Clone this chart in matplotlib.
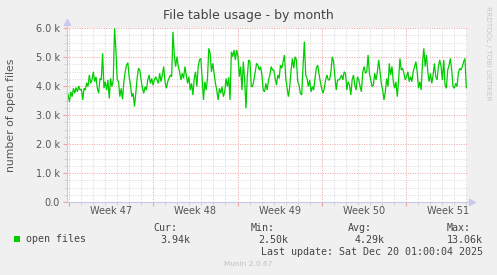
import matplotlib
matplotlib.use("Agg")
import matplotlib.pyplot as plt
import matplotlib.dates as mdates
import numpy as np
import pandas as pd
from matplotlib.patches import Rectangle
from matplotlib.ticker import MultipleLocator, FixedLocator, NullFormatter

# ---------------- data (thousands of open files) ----------------
open_files_part1 = [
    3.86, 3.69, 3.46, 3.80, 3.63, 3.92, 3.75, 3.95, 3.80, 4.00, 3.86, 3.89, 3.52, 3.92, 3.86,
    4.11, 3.98, 4.38, 4.09, 4.21, 4.49, 4.15, 4.32, 3.92, 3.75, 4.26, 4.21, 5.13, 3.92, 4.15,
    3.86, 4.21, 3.57, 4.26, 3.98, 4.21, 5.99, 5.24, 4.21, 4.15, 3.63, 3.92, 3.54, 4.15, 4.49,
    4.72, 4.80, 4.32, 4.03, 3.63, 3.75, 3.29, 3.75, 4.26, 4.61, 4.55, 4.21, 3.92, 3.75, 3.98,
    3.86, 4.21, 4.38, 4.09, 4.26, 4.03, 4.21, 4.32, 4.21, 4.09, 4.44, 4.15, 4.38, 4.67, 4.15,
    3.92, 4.15, 4.26, 4.38, 4.32, 5.87, 5.07, 4.67, 5.01, 4.67, 4.49, 4.21, 4.44, 4.26, 4.67,
    4.38, 4.09, 4.32, 3.86, 4.09, 3.69, 4.26, 4.49, 3.98, 4.67, 4.90, 4.95, 4.21, 3.52, 4.15,
    3.86, 4.26, 5.30, 5.13, 4.49, 4.78, 4.44, 4.09, 3.86, 3.52, 3.92, 3.75, 3.98, 3.63, 3.80,
    4.26, 3.98, 4.30, 3.52, 5.18, 5.01, 5.24, 4.90, 5.24, 5.01, 4.32, 4.67, 3.86, 4.84, 4.21,
    3.23, 4.32, 4.90, 4.84, 3.98,
]
open_files_part2 = [
    3.98, 4.21, 4.49, 4.78, 4.72, 4.55, 4.67, 4.38, 3.86, 3.80, 4.09, 3.86, 4.21, 4.38, 4.67,
    4.55, 4.55, 4.26, 4.03, 4.38, 4.26, 4.72, 4.61, 4.84, 5.07, 4.26, 3.92, 3.63, 3.98, 4.55,
    4.95, 4.61, 5.01, 4.90, 4.15, 4.03, 3.75, 3.69, 4.67, 5.53, 4.38, 4.26, 3.98, 4.21, 3.80,
    3.98, 3.86, 4.26, 4.61, 4.72, 4.44, 4.15, 3.92, 3.75, 3.92, 4.21, 4.38, 4.21, 4.21, 4.49,
    5.01, 4.84, 4.32, 3.86, 4.21, 4.21, 4.26, 4.38, 4.21, 4.49, 4.44, 3.86, 4.15, 4.03, 3.69,
    4.21, 4.38, 4.03, 3.86, 4.32, 4.21, 3.98, 3.80, 4.49, 4.67, 4.44, 4.49, 5.07, 4.44, 4.21,
    3.98, 4.03, 4.44, 4.21, 4.49, 4.90, 4.49, 4.09, 3.86, 3.52, 3.80, 4.26, 3.98, 4.78, 4.38,
    4.67, 4.15, 3.92, 4.15, 3.63, 4.21, 4.95, 4.55, 4.61, 4.44, 4.21, 4.32, 4.49, 4.15, 4.32,
    4.15, 4.49, 4.67, 4.84, 4.49, 3.92, 4.15, 3.86, 4.78, 5.30, 4.67, 5.07, 4.49, 4.15, 4.44,
    4.09, 4.38, 4.78, 4.32, 4.21, 4.67, 4.90, 4.67, 4.21, 4.90, 4.03, 3.92, 4.55, 4.72, 4.95,
    4.55, 3.98, 3.92, 4.09, 3.98, 4.44, 4.61, 4.55, 4.67, 4.84, 4.95, 3.94,
]
series_start = "2025-11-16 19:00"
series_end = "2025-12-20 01:00"
x_start = "2025-11-16 19:26"
x_end = "2025-12-20 02:25"
week_starts = ["2025-11-17", "2025-11-24", "2025-12-01", "2025-12-08", "2025-12-15"]
week_labels = ["Week 47", "Week 48", "Week 49", "Week 50", "Week 51"]
y_ticks = [0, 1000, 2000, 3000, 4000, 5000, 6000]
y_tick_labels = ["0.0", "1.0 k", "2.0 k", "3.0 k", "4.0 k", "5.0 k", "6.0 k"]
legend_name = "open files"
stat_names = ["Cur:", "Min:", "Avg:", "Max:"]
stat_values = ["3.94k", "2.50k", "4.29k", "13.06k"]

values = np.array(open_files_part1 + open_files_part2) * 1000.0
times = pd.date_range(series_start, series_end, periods=len(values))

# ---------------- figure ----------------
W, H = 497, 275
fig = plt.figure(figsize=(W / 100, H / 100), dpi=100, facecolor="#F0F0F0")

def fx(x):
    return x / W

def fy(y):
    return 1 - y / H

L, R, T, B = 67, 467, 28, 202
ax = fig.add_axes([fx(L), fy(B), (R - L) / W, (B - T) / H])
ax.set_facecolor("white")

x0 = mdates.date2num(pd.Timestamp(x_start))
x1 = mdates.date2num(pd.Timestamp(x_end))
ax.set_xlim(x0, x1)
ax.set_ylim(0, 6000)

# grid
ax.yaxis.set_major_locator(FixedLocator(y_ticks))
ax.yaxis.set_minor_locator(MultipleLocator(250))
week_nums = [mdates.date2num(pd.Timestamp(w)) for w in week_starts]
ax.xaxis.set_major_locator(FixedLocator(week_nums))
ax.xaxis.set_minor_locator(MultipleLocator(1.0))
ax.set_yticklabels(y_tick_labels)
ax.xaxis.set_major_formatter(NullFormatter())

minor_col = "#d8d8d8"
major_col = "#f0a0a0"
ax.grid(which="minor", axis="both", color=minor_col, linestyle=(0, (1, 1.5)), linewidth=0.7)
ax.grid(which="major", axis="both", color=major_col, linestyle=(0, (1, 1.5)), linewidth=0.7)
ax.set_axisbelow(True)

ax.tick_params(axis="both", which="major", length=3, color=major_col, width=0.8,
               labelsize=7, labelcolor="#555555", direction="out", pad=2)
ax.tick_params(axis="both", which="minor", length=2, color="#cccccc", width=0.6, direction="out")

for s in ["top", "right"]:
    ax.spines[s].set_visible(False)
for s in ["left", "bottom"]:
    ax.spines[s].set_color("#c8c8e8")
    ax.spines[s].set_linewidth(0.8)

# axis arrows
ax.plot([0, 0], [1, 1.035], transform=ax.transAxes, color="#c8c8e8", lw=0.8, clip_on=False)
ax.plot([1, 1.01], [0, 0], transform=ax.transAxes, color="#c8c8e8", lw=0.8, clip_on=False)
ax.plot([0], [1.035], transform=ax.transAxes, marker="^", ms=4, color="#c8c8f0", clip_on=False)
ax.plot([1.012], [0], transform=ax.transAxes, marker=">", ms=4, color="#c8c8f0", clip_on=False)

# week labels centred in each week
for w, lab in zip(week_starts, week_labels):
    c = mdates.date2num(pd.Timestamp(w)) + 3.5
    ax.text(c, -0.025, lab, transform=ax.get_xaxis_transform(), ha="center", va="top",
            fontsize=7, color="#555555")

# data line
ax.plot(mdates.date2num(times), values, color="#00cc00", lw=0.9, solid_joinstyle="miter")

# title and labels
fig.text(fx(248), fy(15), "File table usage - by month", ha="center", va="center",
         fontsize=9, color="#444444")
fig.text(fx(11), fy(115), "number of open files", ha="center", va="center", rotation=90,
         fontsize=7.8, color="#555555")
fig.text(fx(488), fy(53), "RRDTOOL / TOBI OETIKER", ha="center", va="center", rotation=270,
         fontsize=5.3, color="#c8c8c8")

# legend
fig.patches.append(Rectangle((fx(14), fy(242)), 6 / W, 6 / H, transform=fig.transFigure,
                             facecolor="#00cc00", edgecolor="none"))
mono = "DejaVu Sans Mono"
tc = "#444444"
fig.text(fx(26), fy(239.5), legend_name, ha="left", va="center", family=mono, fontsize=7.2, color=tc)
name_right = [177, 275, 372, 471]
val_right = [190, 288, 385, 483]
for n, v, nr, vr in zip(stat_names, stat_values, name_right, val_right):
    fig.text(fx(nr), fy(228), n, ha="right", va="center", family=mono, fontsize=7.2, color=tc)
    fig.text(fx(vr), fy(240), v, ha="right", va="center", family=mono, fontsize=7.2, color=tc)
fig.text(fx(483), fy(252), "Last update: Sat Dec 20 01:00:04 2025", ha="right", va="center",
         family=mono, fontsize=7.2, color=tc)
fig.text(fx(248), fy(264.5), "Munin 2.0.67", ha="center", va="center", fontsize=5.3, color="#c0c0c0")

fig.savefig("out.png", dpi=100, facecolor=fig.get_facecolor())
